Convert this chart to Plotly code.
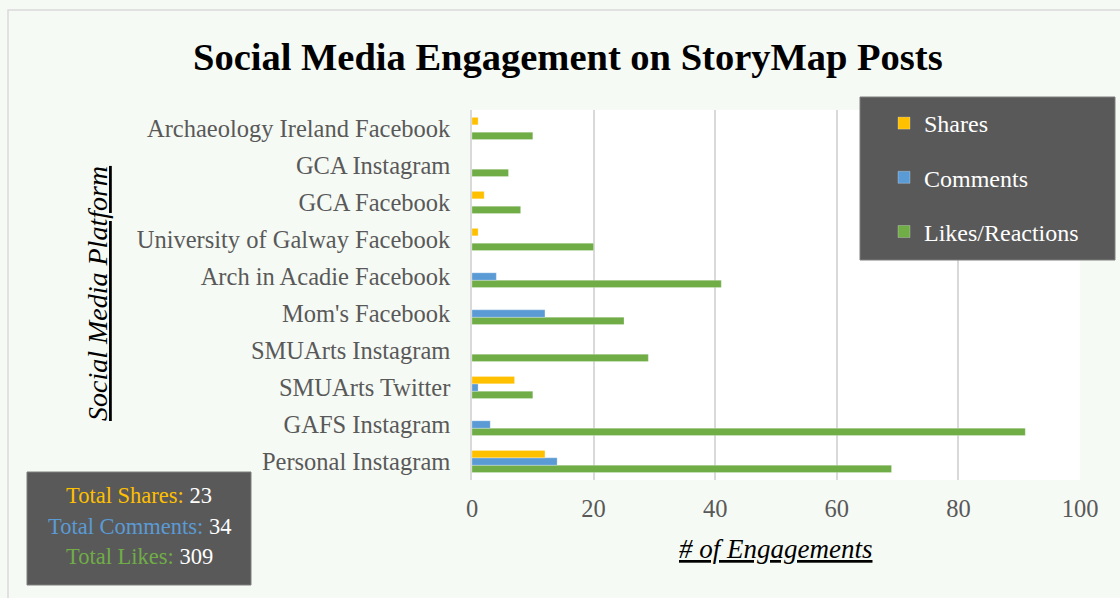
import plotly.graph_objects as go

platforms = ["Personal Instagram", "GAFS Instagram", "SMUArts Twitter", "SMUArts Instagram",
             "Mom's Facebook", "Arch in Acadie Facebook", "University of Galway Facebook",
             "GCA Facebook", "GCA Instagram", "Archaeology Ireland Facebook"]
shares = [12, 0, 7, 0, 0, 0, 1, 2, 0, 1]
comments = [14, 3, 1, 0, 12, 4, 0, 0, 0, 0]
likes = [69, 91, 10, 29, 25, 41, 20, 8, 6, 10]
x_ticks = [0, 20, 40, 60, 80, 100]

C_SH, C_CO, C_LI = "#FFC000", "#5B9BD5", "#70AD47"
FONT = "Liberation Serif, Times New Roman, serif"

W, H = 1120, 598
L, R, T, B = 472, 1080, 110, 480
def px(x): return (x - L) / (R - L)
def py(y): return (B - y) / (B - T)

fig = go.Figure()
for name, vals, col, grp, rank in [("Likes/Reactions", likes, C_LI, "c", 3),
                                   ("Comments", comments, C_CO, "b", 2),
                                   ("Shares", shares, C_SH, "a", 1)]:
    fig.add_trace(go.Bar(y=platforms, x=vals, name=name, orientation="h",
                         marker=dict(color=col, line=dict(color="rgba(255,255,255,0.5)", width=0.5)),
                         legendgroup=grp, legendrank=rank))

fig.update_layout(
    width=W, height=H,
    margin=dict(l=L, r=W - R, t=T, b=H - B),
    paper_bgcolor="#f6faf4", plot_bgcolor="white",
    barmode="group", bargap=0.4, bargroupgap=0,
    font=dict(family=FONT, size=24.5, color="#595959"),
    showlegend=True,
    legend=dict(x=px(884), y=py(101), xanchor="left", yanchor="top",
                bgcolor="rgba(0,0,0,0)", traceorder="grouped", itemwidth=30,
                tracegroupgap=20, font=dict(family=FONT, size=24, color="white")),
    xaxis=dict(range=[0, 100], tickvals=x_ticks, showgrid=True, gridcolor="#d9d9d9",
               gridwidth=1.5, zeroline=False, showline=False, ticks="",
               ticklabelstandoff=11, fixedrange=True),
    yaxis=dict(showgrid=False, zeroline=False, showline=True, linecolor="#d9d9d9", linewidth=1.5,
               ticks="", ticklabelstandoff=15, fixedrange=True),
    shapes=[
        dict(type="rect", xref="paper", yref="paper", layer="below",
             x0=px(8), x1=px(1130), y0=py(10), y1=py(610),
             line=dict(color="#d9d9d9", width=1.5), fillcolor="rgba(0,0,0,0)"),
        dict(type="rect", xref="paper", yref="paper", layer="above",
             x0=px(860), x1=px(1115), y0=py(97), y1=py(260),
             line=dict(color="#7f7f7f", width=1), fillcolor="#595959"),
        dict(type="rect", xref="paper", yref="paper", layer="above",
             x0=px(27), x1=px(251), y0=py(472), y1=py(585),
             line=dict(color="#7f7f7f", width=1), fillcolor="#595959"),
    ],
)

ann = [
    dict(text="<b>Social Media Engagement on StoryMap Posts</b>", x=px(568), y=py(57),
         font=dict(family=FONT, size=38.5, color="black")),
    dict(text="<i><u># of Engagements</u></i>", x=px(775), y=py(549),
         font=dict(family=FONT, size=27, color="black")),
    dict(text="<i><u>Social Media Platform</u></i>", x=px(97), y=py(294), textangle=-90,
         font=dict(family=FONT, size=28, color="black")),
    dict(text=f'<span style="color:{C_SH}">Total Shares:</span> {sum(shares)}', x=px(139), y=py(495),
         font=dict(family=FONT, size=22.5, color="white")),
    dict(text=f'<span style="color:{C_CO}">Total Comments:</span> {sum(comments)}', x=px(139), y=py(526),
         font=dict(family=FONT, size=22.5, color="white")),
    dict(text=f'<span style="color:{C_LI}">Total Likes:</span> {sum(likes)}', x=px(139), y=py(556),
         font=dict(family=FONT, size=22.5, color="white")),
]
for a in ann:
    fig.add_annotation(xref="paper", yref="paper", showarrow=False,
                       xanchor="center", yanchor="middle", **a)

fig.write_html("out.html")
